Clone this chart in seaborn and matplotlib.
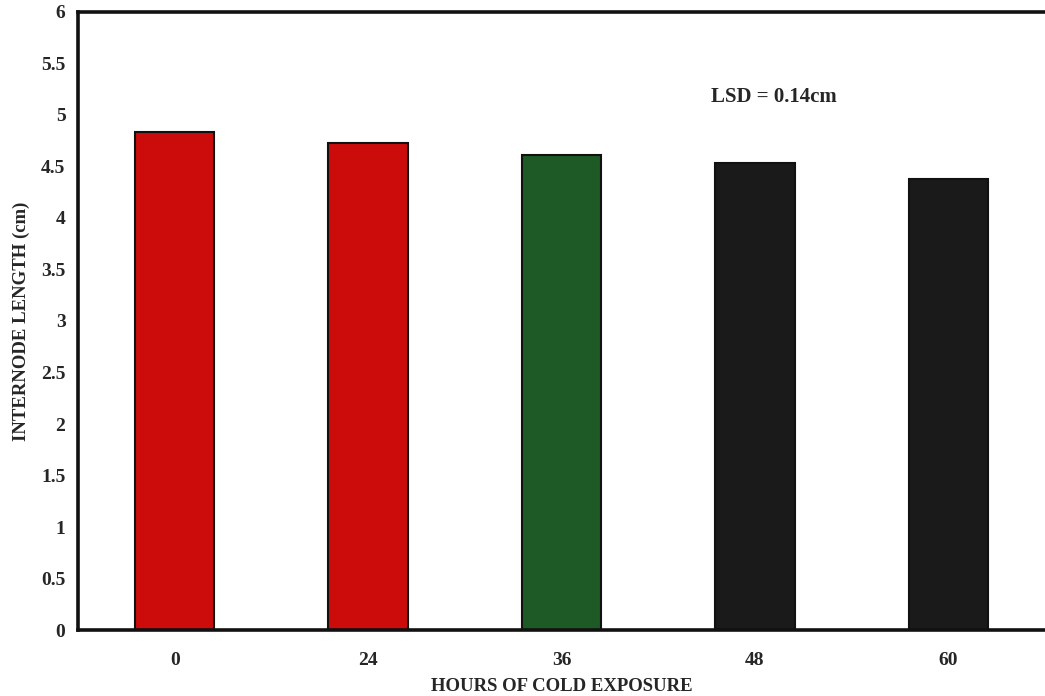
import matplotlib
matplotlib.use("Agg")
import matplotlib.pyplot as plt
import seaborn as sns
import pandas as pd
import numpy as np

hours = ["0", "24", "36", "48", "60"]
lengths = [4.83, 4.73, 4.61, 4.53, 4.38]
bar_colors = ["#cc0b0b", "#cc0b0b", "#1e5a26", "#1a1a1a", "#1a1a1a"]
y_ticks = [0, 0.5, 1, 1.5, 2, 2.5, 3, 3.5, 4, 4.5, 5, 5.5, 6]
y_tick_labels = ["0", "0.5", "1", "1.5", "2", "2.5", "3", "3.5", "4", "4.5", "5", "5.5", "6"]

sns.set_style("white")
plt.rcParams["font.family"] = ["Liberation Serif", "DejaVu Serif"]
plt.rcParams["font.weight"] = "bold"

df = pd.DataFrame({"hours": hours, "length": lengths})

fig = plt.figure(figsize=(10.45, 6.96), dpi=100)
ax = fig.add_axes([0.0746, 0.0948, 0.9254, 0.888])

sns.barplot(data=df, x="hours", y="length", hue="hours", palette=bar_colors,
            order=hours, hue_order=hours, legend=False, width=0.41,
            edgecolor="#111111", linewidth=1.5, ax=ax, saturation=1)

ax.set_ylim(0, 6)
ax.set_xlim(-0.5, len(hours) - 0.5)
ax.set_yticks(y_ticks)
ax.set_yticklabels(y_tick_labels, fontsize=14, fontweight="bold")
ax.set_xticks(range(len(hours)))
ax.set_xticklabels(hours, fontsize=14, fontweight="bold")
ax.tick_params(axis="x", which="major", length=0, pad=16)
ax.set_xticks(np.arange(0.5, len(hours) - 0.5, 1), minor=True)
ax.tick_params(axis="x", which="minor", length=6, width=2, direction="out", color="#111111")
ax.tick_params(axis="y", length=6, width=2, direction="out", color="#111111", pad=3)

for side in ["left", "bottom", "top"]:
    ax.spines[side].set_visible(True)
    ax.spines[side].set_linewidth(2.6)
    ax.spines[side].set_color("#111111")
ax.spines["right"].set_visible(False)

ax.set_xlabel("HOURS OF COLD EXPOSURE", fontsize=13.5, fontweight="bold", labelpad=6)
ax.set_ylabel("INTERNODE LENGTH (cm)", fontsize=13.5, fontweight="bold", labelpad=8)

ax.text(3.1, 5.17, "LSD = 0.14cm", fontsize=15, fontweight="bold", ha="center", va="center")

fig.savefig("out.png", dpi=100)
